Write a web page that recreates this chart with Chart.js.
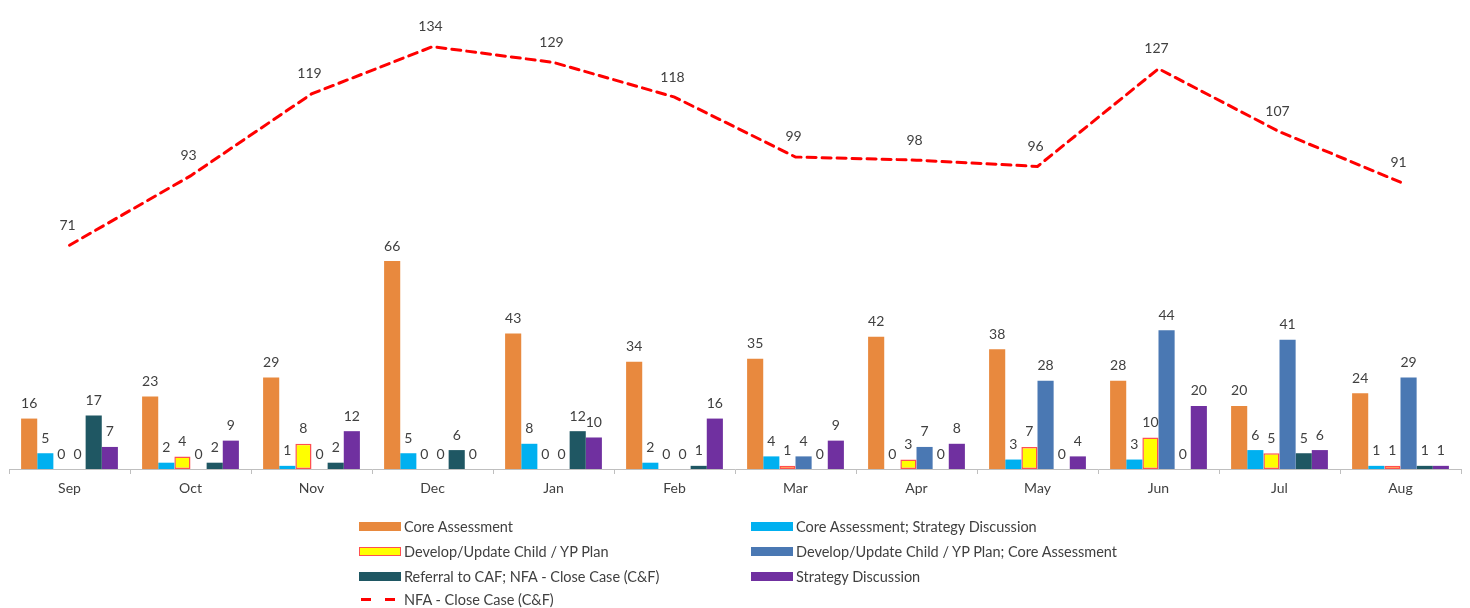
<!DOCTYPE html>
<html>
<head>
<meta charset="utf-8">
<script src="https://cdn.jsdelivr.net/npm/chart.js@4/dist/chart.umd.min.js"></script>
<style>
  html, body { margin:0; padding:0; background:#fff; }
  #wrap { position:relative; width:1470px; height:608px; overflow:hidden; }
  #c { position:absolute; left:0; top:0; }
  .lg { position:absolute; font-family:Lato, "Open Sans", sans-serif; font-size:14.5px; color:#404040; white-space:nowrap; }
  .lg .sw { position:absolute; left:0; top:50%; width:42px; height:9px; margin-top:-5px; box-sizing:border-box; }
  .lg .tx { position:absolute; left:45px; top:50%; transform:translateY(-50%); line-height:16px; }
  .dash { position:absolute; top:50%; margin-top:-2px; width:10px; height:3px; background:#FF0000; }
</style>
</head>
<body>
<div id="wrap">
<canvas id="c" width="1470" height="608"></canvas>
<div id="legend"></div>
</div>
<script>
const months = ["Sep","Oct","Nov","Dec","Jan","Feb","Mar","Apr","May","Jun","Jul","Aug"];
const coreAssessment = [16,23,29,66,43,34,35,42,38,28,20,24];
const coreAssessmentStrategy = [5,2,1,5,8,2,4,0,3,3,6,1];
const developPlan = [0,4,8,0,0,0,1,3,7,10,5,1];
const developPlanCore = [0,0,0,0,0,0,4,7,28,44,41,29];
const referralCAF = [17,2,2,6,12,1,0,0,0,0,5,1];
const strategyDiscussion = [7,9,12,0,10,16,9,8,4,20,6,1];
const nfaCloseCase = [71,93,119,134,129,118,99,98,96,127,107,91];

const seriesNames = [
  "Core Assessment",
  "Core Assessment; Strategy Discussion",
  "Develop/Update Child / YP Plan",
  "Develop/Update Child / YP Plan; Core Assessment",
  "Referral to CAF; NFA - Close Case (C&F)",
  "Strategy Discussion",
  "NFA - Close Case (C&F)"
];
const barFills = ["#E8893E","#00B0F0","#FFFF00","#4A78B3","#1F5763","#7030A0"];
const barBorders = ["#E8893E","#00B0F0","#FF5050","#4A78B3","#1F5763","#7030A0"];
const barBorderWidths = [0,0,1.5,0,0,0];
const barData = [coreAssessment, coreAssessmentStrategy, developPlan, developPlanCore, referralCAF, strategyDiscussion];

const FONT = 'Lato, "Open Sans", sans-serif';
const TXT = '#404040';

const datasets = [{
  type:'line',
  label: seriesNames[6],
  data: nfaCloseCase,
  borderColor:'#FF0000',
  borderWidth:3,
  borderDash:[9,6],
  borderCapStyle:'round',
  pointRadius:0,
  fill:false,
  tension:0,
  order:0
}];
barData.forEach((d,i)=>{
  datasets.push({
    type:'bar',
    label: seriesNames[i],
    data: d,
    backgroundColor: barFills[i],
    borderColor: barBorders[i],
    borderWidth: barBorderWidths[i],
    borderSkipped: false,
    barPercentage: 1.0,
    categoryPercentage: 0.8,
    order:1
  });
});

const labelPlugin = {
  id:'valueLabels',
  afterDatasetsDraw(chart){
    const ctx = chart.ctx;
    ctx.save();
    ctx.font = '14px ' + FONT;
    ctx.fillStyle = TXT;
    ctx.textAlign = 'center';
    ctx.textBaseline = 'middle';
    chart.data.datasets.forEach((ds, di)=>{
      const meta = chart.getDatasetMeta(di);
      meta.data.forEach((el, j)=>{
        const v = ds.data[j];
        if (ds.type === 'line') {
          ctx.fillText(String(v), el.x - 2, el.y - 20);
        } else {
          ctx.fillText(String(v), el.x, el.y - 15);
        }
      });
    });
    ctx.restore();
  }
};

new Chart(document.getElementById('c'), {
  data: { labels: months, datasets },
  options: {
    responsive:false,
    animation:false,
    layout:{ padding:{ left:9, right:9, top:12, bottom:109 } },
    plugins:{ legend:{ display:false }, tooltip:{ enabled:false } },
    scales:{
      x:{
        type:'category',
        offset:true,
        grid:{ offset:true, drawOnChartArea:false, drawTicks:true, tickLength:5, color:'#BFBFBF' },
        border:{ display:true, color:'#BFBFBF', width:1 },
        ticks:{ font:{ family:FONT, size:14 }, color:TXT, padding:6, maxRotation:0 },
        afterFit(scale){ scale.height = 30; }
      },
      y:{
        display:false,
        min:0,
        max:145
      }
    }
  },
  plugins:[labelPlugin]
});

// HTML legend
const legendItems = [
  { name: seriesNames[0], x:359, y:527, fill:barFills[0], border:null },
  { name: seriesNames[1], x:751, y:527, fill:barFills[1], border:null },
  { name: seriesNames[2], x:359, y:552, fill:barFills[2], border:'#FF5050' },
  { name: seriesNames[3], x:751, y:552, fill:barFills[3], border:null },
  { name: seriesNames[4], x:359, y:577, fill:barFills[4], border:null },
  { name: seriesNames[5], x:751, y:577, fill:barFills[5], border:null },
  { name: seriesNames[6], x:359, y:600, line:true }
];
const lg = document.getElementById('legend');
legendItems.forEach(it=>{
  const d = document.createElement('div');
  d.className = 'lg';
  d.style.left = it.x + 'px';
  d.style.top = (it.y - 10) + 'px';
  d.style.height = '20px';
  d.style.width = '420px';
  if (it.line) {
    const a = document.createElement('span'); a.className='dash'; a.style.left='2px';
    const b = document.createElement('span'); b.className='dash'; b.style.left='26px';
    d.appendChild(a); d.appendChild(b);
  } else {
    const s = document.createElement('span');
    s.className = 'sw';
    s.style.background = it.fill;
    if (it.border) s.style.border = '1.5px solid ' + it.border;
    d.appendChild(s);
  }
  const t = document.createElement('span');
  t.className = 'tx';
  t.textContent = it.name;
  d.appendChild(t);
  lg.appendChild(d);
});
</script>
</body>
</html>
